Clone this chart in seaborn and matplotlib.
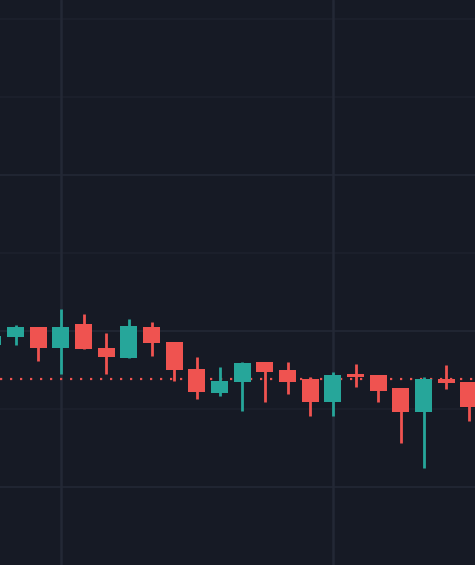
import matplotlib
matplotlib.use("Agg")
import matplotlib.pyplot as plt
import seaborn as sns
import numpy as np
import pandas as pd

# OHLC values
opens  = [99.10, 99.62, 100.26, 98.91, 100.45, 98.91, 98.27, 100.26, 99.29, 97.56, 96.03,
          96.73, 98.01, 97.50, 96.92, 95.45, 97.24, 97.18, 96.35, 94.81, 96.92, 96.73]
highs  = [99.87, 100.38, 100.26, 101.41, 101.09, 99.87, 100.77, 100.58, 99.29, 98.33, 97.69,
          98.01, 98.01, 98.01, 97.05, 97.37, 97.88, 97.18, 96.35, 97.05, 97.82, 96.73]
lows   = [98.91, 99.10, 98.08, 97.24, 98.85, 97.24, 98.27, 98.40, 96.79, 95.64, 95.83,
          94.87, 95.45, 95.96, 94.55, 94.55, 96.41, 95.45, 92.82, 91.22, 96.28, 94.23]
closes = [99.68, 100.26, 98.91, 100.26, 98.85, 98.33, 100.32, 99.23, 97.50, 96.09, 96.79,
          97.95, 97.37, 96.73, 95.45, 97.18, 97.05, 96.15, 94.81, 96.92, 96.67, 95.13]
last_price = 96.92
y_ticks_major = [90, 100, 110]
y_ticks_minor = [95, 105, 115, 120]
x_ticks = [3, 15]

df = pd.DataFrame({"idx": np.arange(len(opens)), "open": opens, "high": highs,
                   "low": lows, "close": closes})

BG = "#161a25"
GRID = "#232835"
GRID_FAINT = "#1d212d"
UP = "#26a69a"
DOWN = "#ef5350"

sns.set_theme(style="dark", rc={"axes.facecolor": BG, "figure.facecolor": BG})

fig = plt.figure(figsize=(4.75, 5.65), dpi=100)
ax = fig.add_axes([0, 0, 1, 1])
ax.set_facecolor(BG)

ax.set_xlim(0.309, 21.265)
ax.set_ylim(85.0, 121.218)

for t in y_ticks_major:
    ax.axhline(t, color=GRID, lw=1.2, zorder=0)
for t in y_ticks_minor:
    ax.axhline(t, color=GRID_FAINT, lw=1.2, zorder=0)
for t in x_ticks:
    ax.axvline(t, color=GRID, lw=1.8, zorder=0)

colors = [UP if c >= o else DOWN for o, c in zip(df["open"], df["close"])]
bottoms = np.minimum(df["open"], df["close"])
heights = np.maximum(np.abs(df["close"] - df["open"]), 0.12)

ax.vlines(df["idx"], df["low"], df["high"], colors=colors, lw=2, zorder=2)
ax.bar(df["idx"], heights, bottom=bottoms, width=0.75, color=colors, linewidth=0, zorder=3)

ax.axhline(last_price, color=DOWN, lw=1.6, ls=(0, (1, 3.5)), zorder=1)

ax.set_xticks([])
ax.set_yticks([])
for s in ax.spines.values():
    s.set_visible(False)

fig.savefig("out.png", dpi=100, facecolor=BG)
